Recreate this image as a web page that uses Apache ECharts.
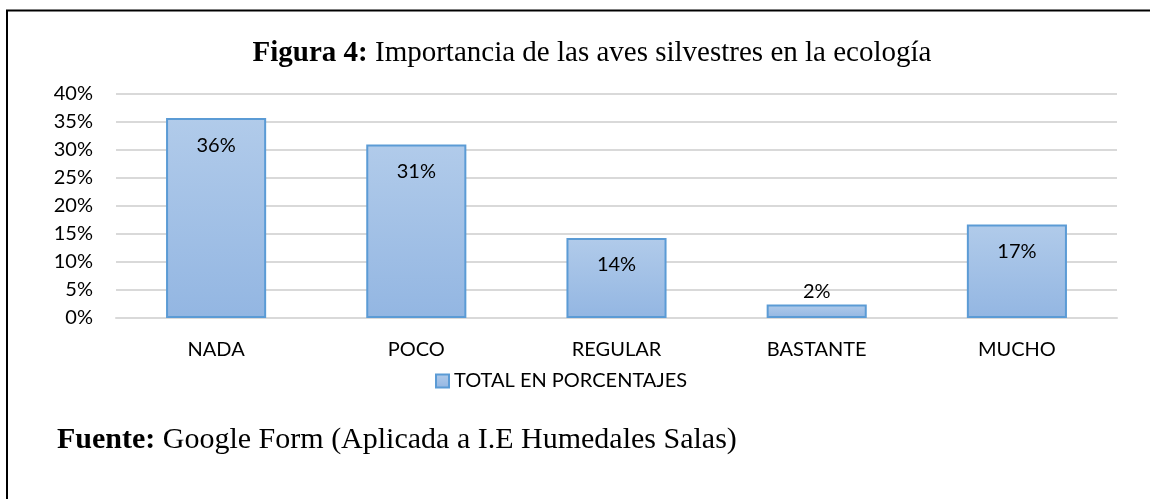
<!DOCTYPE html>
<html>
<head>
<meta charset="utf-8">
<script src="https://cdn.jsdelivr.net/npm/echarts@6/dist/echarts.min.js"></script>
<style>
  html, body { margin: 0; padding: 0; background: #fff; }
  #chart { width: 1150px; height: 499px; }
</style>
</head>
<body>
<div id="chart"></div>
<script>
const categories = ["NADA", "POCO", "REGULAR", "BASTANTE", "MUCHO"];
const values = [35.7, 31.0, 14.3, 2.4, 16.7];
const yTicks = [0, 5, 10, 15, 20, 25, 30, 35, 40];
const seriesName = "TOTAL EN PORCENTAJES";

const chart = echarts.init(document.getElementById("chart"));

const labelFont = "Lato, 'Open Sans', sans-serif";
const serif = "'Liberation Serif', serif";

chart.setOption({
  backgroundColor: "#fff",
  animation: false,
  title: {
    text: "{b|Figura 4:}{n| Importancia de las aves silvestres en la ecología}",
    left: 587,
    textAlign: "center",
    top: 34,
    textStyle: {
      rich: {
        b: { fontFamily: serif, fontWeight: "bold", fontSize: 29, color: "#000" },
        n: { fontFamily: serif, fontWeight: "normal", fontSize: 29, color: "#000" },
      },
    },
  },
  grid: { left: 116, right: 33, top: 94, bottom: 181 },
  legend: {
    data: [seriesName],
    top: 366,
    left: 430,
    itemWidth: 13,
    itemHeight: 13,
    itemGap: 4,
    icon: "rect",
    textStyle: { fontFamily: labelFont, fontSize: 20, color: "#000" },
  },
  xAxis: {
    type: "category",
    data: categories,
    axisTick: { show: false },
    axisLine: { lineStyle: { color: "#d9d9d9", width: 2 } },
    axisLabel: { color: "#000", fontFamily: labelFont, fontSize: 20, margin: 22 },
  },
  yAxis: {
    type: "value",
    min: yTicks[0],
    max: yTicks[yTicks.length - 1],
    interval: 5,
    axisLine: { show: false },
    axisTick: { show: false },
    axisLabel: {
      color: "#000",
      fontFamily: labelFont,
      fontSize: 20,
      margin: 23,
      formatter: (v) => v + "%",
    },
    splitLine: { lineStyle: { color: "#d9d9d9", width: 2 } },
  },
  series: [
    {
      name: seriesName,
      type: "bar",
      barWidth: "50%",
      // the 2% bar is too short for an inside label, put it on top
      data: values.map((v) =>
        v < 5 ? { value: v, label: { position: "top", distance: 3 } } : v
      ),
      itemStyle: {
        color: new echarts.graphic.LinearGradient(0, 0, 0, 1, [
          { offset: 0, color: "#b1cbea" },
          { offset: 1, color: "#93b6e2" },
        ]),
        borderColor: "#5b9bd5",
        borderWidth: 2,
      },
      label: {
        show: true,
        position: "insideTop",
        distance: 17,
        color: "#000",
        fontFamily: labelFont,
        fontSize: 20,
        formatter: (p) => Math.round(p.value) + "%",
      },
    },
  ],
  graphic: [
    { type: "line", shape: { x1: 6, y1: 10.5, x2: 1150, y2: 10.5 }, style: { stroke: "#000", lineWidth: 2 } },
    { type: "line", shape: { x1: 7, y1: 10, x2: 7, y2: 499 }, style: { stroke: "#000", lineWidth: 2 } },
    {
      type: "text",
      left: 57,
      top: 425,
      style: {
        text: "{b|Fuente:}{n| Google Form (Aplicada a I.E Humedales Salas)}",
        rich: {
          b: { fontFamily: serif, fontWeight: "bold", fontSize: 30, fill: "#000" },
          n: { fontFamily: serif, fontSize: 30, fill: "#000" },
        },
      },
    },
  ],
});
</script>
</body>
</html>
